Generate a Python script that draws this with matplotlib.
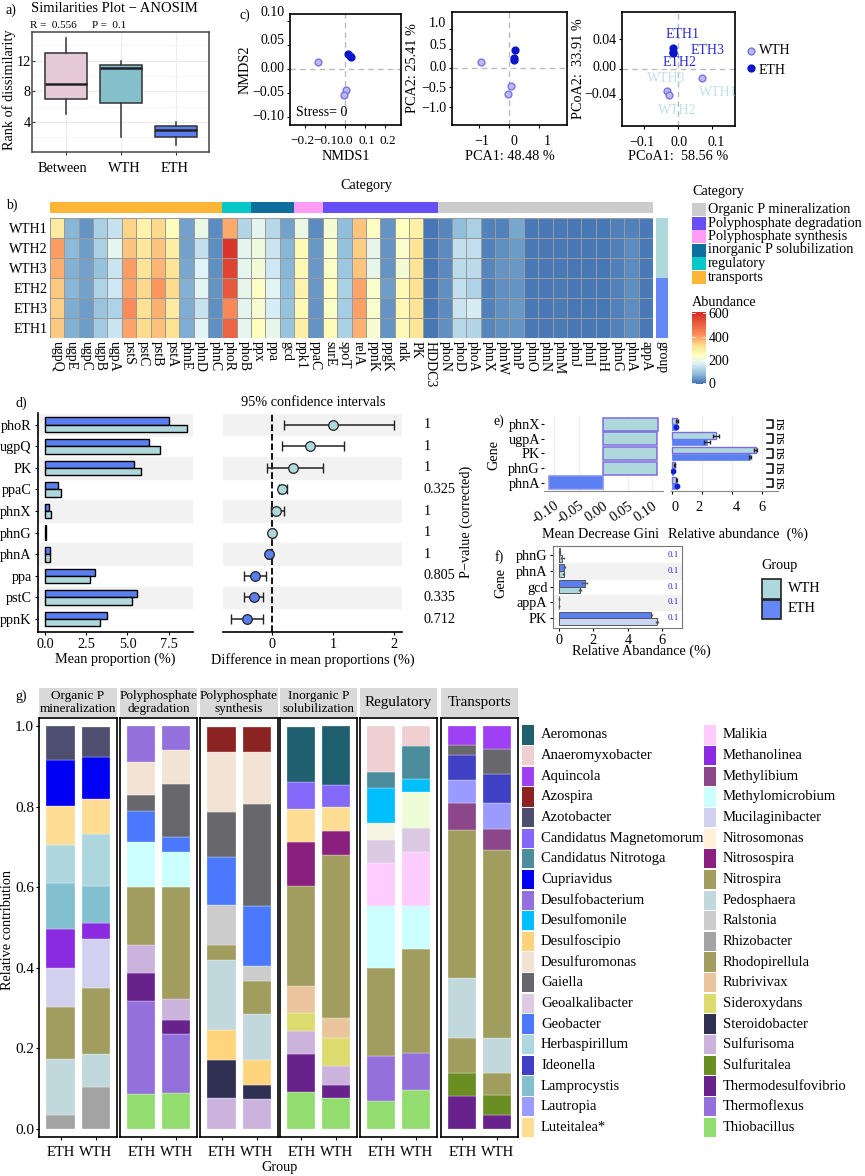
# -*- coding: utf-8 -*-
# multi panel phosphorus gene figure

import numpy as np
import matplotlib
matplotlib.use('Agg')
import matplotlib.pyplot as plt
from matplotlib.colors import LinearSegmentedColormap, Normalize
from matplotlib.patches import Rectangle
from matplotlib.transforms import Affine2D

W, H = 865, 1176
plt.rcParams['font.family'] = ['Liberation Serif', 'DejaVu Serif']
plt.rcParams['font.size'] = 10

TEAL = '#aed8db'
BLUE = '#5b7ff0'

# panel a
box_names = ['Between', 'WTH', 'ETH']
box_low = [5, 2, 1]
box_q1 = [7, 6.5, 2]
box_med = [9, 11, 3]
box_q3 = [13, 11.5, 3.5]
box_high = [15, 12, 4]
box_colors = ['#e5c9d7', '#85bfcc', '#5b7ff0']

# panel c
nmds_wth_x = [-0.135, 0.003, -0.003]
nmds_wth_y = [0.014, -0.044, -0.053]
nmds_eth_x = [0.015, 0.027, 0.032]
nmds_eth_y = [0.030, 0.027, 0.025]
pca_wth_x = [-0.955, 0.08, -0.045]
pca_wth_y = [0.164, -0.457, -0.66]
pca_eth_x = [0.19, 0.16, 0.16]
pca_eth_y = [0.457, 0.26, 0.22]
pcoa_wth_x = [0.07, -0.033, -0.027]
pcoa_wth_y = [-0.0124, -0.0293, -0.0347]
pcoa_eth_x = [-0.0146, -0.0150, -0.0146]
pcoa_eth_y = [0.0284, 0.023, 0.0218]
pcoa_names = ['ETH1', 'ETH3', 'ETH2', 'WTH3', 'WTH1', 'WTH2']
pcoa_name_x = [0.0126, 0.0845, 0.005, -0.034, 0.1165, -0.003]
pcoa_name_y = [0.0462, 0.0249, 0.008, -0.0129, -0.031, -0.0556]

# panel b
heat_genes = ['ugpQ', 'ugpE', 'ugpC', 'ugpB', 'ugpA', 'pstS', 'pstC', 'pstB', 'pstA', 'phnE',
              'phnD', 'phnC', 'phoR', 'phoB', 'ppx', 'ppa', 'gcd', 'ppk1', 'ppaC', 'surE',
              'spoT', 'relA', 'ppnK', 'ppgK', 'ndk', 'PK', 'HDDC3', 'phoN', 'phoD', 'phoA',
              'phnX', 'phnW', 'phnP', 'phnO', 'phnN', 'phnM', 'phnJ', 'phnI', 'phnH', 'phnG',
              'phnA', 'appA']
heat_samples = ['WTH1', 'WTH2', 'WTH3', 'ETH2', 'ETH3', 'ETH1']
heat_wth1 = [290, 70, 35, 110, 140, 335, 275, 330, 245, 50, 195, 25, 385, 120, 180, 125, 50, 195, 25, 215, 80,
             355, 235, 35, 240, 280, 2, 20, 80, 110, 15, 15, 55, 5, 5, 5, 4, 4, 4, 12, 15, 5]
heat_wth2 = [400, 75, 45, 110, 185, 355, 300, 355, 285, 50, 135, 28, 590, 180, 205, 145, 70, 255, 40, 225, 85,
             345, 190, 35, 225, 310, 2, 25, 135, 135, 15, 30, 42, 5, 5, 5, 4, 4, 4, 12, 25, 5]
heat_wth3 = [380, 65, 50, 85, 145, 400, 310, 370, 310, 55, 170, 30, 560, 185, 210, 150, 70, 260, 40, 230, 95,
             355, 190, 35, 215, 310, 2, 22, 130, 130, 20, 35, 40, 5, 5, 5, 4, 4, 4, 12, 25, 5]
heat_eth2 = [350, 70, 50, 115, 150, 390, 330, 410, 325, 65, 175, 35, 520, 190, 235, 175, 80, 275, 40, 245, 110,
             390, 225, 45, 255, 315, 3, 30, 135, 115, 15, 30, 35, 5, 5, 7, 4, 4, 4, 14, 28, 5]
heat_eth3 = [340, 60, 45, 90, 115, 425, 315, 375, 290, 60, 140, 30, 430, 180, 220, 160, 85, 255, 35, 230, 105,
             395, 225, 35, 260, 310, 2, 25, 145, 160, 15, 30, 40, 5, 5, 7, 4, 4, 4, 14, 28, 5]
heat_eth1 = [350, 65, 45, 100, 145, 390, 325, 360, 315, 60, 175, 30, 500, 185, 245, 190, 90, 280, 35, 250, 110,
             375, 220, 35, 255, 310, 3, 30, 125, 120, 20, 30, 35, 5, 5, 7, 4, 4, 4, 14, 28, 5]
heat_levels = [0, 80, 170, 240, 320, 420, 600]
heat_level_colors = ['#4575b4', '#91bfdb', '#e0f3f8', '#ffffbf', '#fee090', '#fc8d59', '#d73027']
cat_names = ['Organic P mineralization', 'Polyphosphate degradation', 'Polyphosphate synthesis',
             'inorganic P solubilization', 'regulatory', 'transports']
cat_colors = ['#cccccc', '#6650f5', '#ff9cf5', '#0e6f9e', '#06c8c8', '#fdb535']
cat_order = [5, 4, 3, 2, 1, 0]
cat_counts = [15, 8, 2, 3, 2, 12]

# panel d
d_genes = ['phoR', 'ugpQ', 'PK', 'ppaC', 'phnX', 'phnG', 'phnA', 'ppa', 'pstC', 'ppnK']
d_eth = [7.5, 6.3, 5.4, 0.8, 0.25, 0.05, 0.3, 3.05, 5.55, 3.75]
d_wth = [8.6, 7.0, 5.8, 1.0, 0.35, 0.05, 0.3, 2.75, 5.25, 3.35]
d_diff = [1.0, 0.63, 0.35, 0.17, 0.07, 0.0, -0.04, -0.27, -0.30, -0.41]
d_low = [0.2, 0.17, -0.08, 0.11, -0.02, -0.01, -0.08, -0.46, -0.46, -0.67]
d_high = [2.0, 1.18, 0.84, 0.24, 0.2, 0.03, 0.0, -0.09, -0.14, -0.14]
d_pvals = ['1', '1', '1', '0.325', '1', '1', '1', '0.805', '0.335', '0.712']

# panel e
e_genes = ['phnX', 'ugpA', 'PK', 'phnG', 'phnA']
e_gini = [0.113, 0.111, 0.111, 0.110, -0.110]
e_wth = [0.3, 2.9, 5.6, 0.15, 0.25]
e_eth = [0.25, 2.35, 5.2, 0.02, 0.28]
e_wth_err = [0.06, 0.2, 0.1, 0.05, 0.04]
e_eth_err = [0.05, 0.2, 0.06, 0.02, 0.05]

# panel f
f_genes = ['phnG', 'phnA', 'gcd', 'appA', 'PK']
f_eth = [0.05, 0.3, 1.5, 0.02, 5.35]
f_wth = [0.2, 0.28, 1.2, 0.02, 5.7]
f_eth_err = [0.03, 0.03, 0.15, 0.0, 0.03]
f_wth_err = [0.08, 0.03, 0.05, 0.0, 0.06]
f_pvals = ['0.1', '0.1', '0.1', '0.1', '0.1']

# panel g
taxa_colors = {
    'Aeromonas': '#1f5f70', 'Anaeromyxobacter': '#efcfd1', 'Aquincola': '#a040f5', 'Azospira': '#8b2323',
    'Azotobacter': '#4e4e70', 'Candidatus Magnetomorum': '#8468fa', 'Candidatus Nitrotoga': '#4d8c9c',
    'Cupriavidus': '#0000f5', 'Desulfobacterium': '#9370db', 'Desulfomonile': '#00bfff',
    'Desulfoscipio': '#ffd47d', 'Desulfuromonas': '#f2e3d5', 'Gaiella': '#68686c',
    'Geoalkalibacter': '#dccae3', 'Geobacter': '#4a78ff', 'Herbaspirillum': '#add6df',
    'Ideonella': '#4040c4', 'Lamprocystis': '#82bfcf', 'Lautropia': '#9a9aff', 'Luteitalea*': '#ffdd94',
    'Malikia': '#ffccff', 'Methanolinea': '#8a2be2', 'Methylibium': '#8b4789', 'Methylomicrobium': '#ccffff',
    'Mucilaginibacter': '#d2d0ef', 'Nitrosomonas': '#fff2d8', 'Nitrosospira': '#8b1f7f',
    'Nitrospira': '#a09d5e', 'Pedosphaera': '#c1d8dc', 'Ralstonia': '#cccccc', 'Rhizobacter': '#a3a3a3',
    'Rhodopirellula': '#a09d5e', 'Rubrivivax': '#eac49c', 'Sideroxydans': '#dcdc6e',
    'Steroidobacter': '#2f2f52', 'Sulfurisoma': '#cbb3de', 'Sulfuritalea': '#6b8e23',
    'Thermodesulfovibrio': '#68228b', 'Thermoflexus': '#9370db', 'Thiobacillus': '#93dc70',
}
taxa_names = list(taxa_colors.keys())
# these two pale segments are not in the legend
extra_colors = {'pale_cream': '#f7f5e4', 'pale_green': '#eefdd8'}

org_taxa = ['Rhizobacter', 'Pedosphaera', 'Nitrospira', 'Mucilaginibacter', 'Methanolinea', 'Lamprocystis',
            'Herbaspirillum', 'Luteitalea*', 'Cupriavidus', 'Azotobacter']
org_eth = [.034, .141, .129, .097, .095, .116, .094, .097, .113, .085]
org_wth = [.105, .080, .164, .122, .041, .092, .129, .086, .105, .075]

deg_taxa = ['Thiobacillus', 'Thermoflexus', 'Thermodesulfovibrio', 'Sulfurisoma', 'Nitrospira',
            'Methylomicrobium', 'Geobacter', 'Gaiella', 'Desulfuromonas', 'Desulfobacterium']
deg_eth = [.086, .231, .070, .071, .142, .112, .078, .040, .082, .089]
deg_wth = [.090, .145, .036, .052, .279, .087, .036, .132, .085, .059]

syn_taxa = ['Sulfurisoma', 'Steroidobacter', 'Desulfoscipio', 'Pedosphaera', 'Nitrospira', 'Ralstonia',
            'Geobacter', 'Gaiella', 'Desulfuromonas', 'Azospira']
syn_eth = [.076, .096, .075, .172, .037, .100, .120, .112, .149, .062]
syn_wth = [.075, .033, .064, .114, .081, .038, .148, .254, .130, .062]

sol_taxa = ['Thiobacillus', 'Thermodesulfovibrio', 'Sulfurisoma', 'Sideroxydans', 'Rubrivivax', 'Nitrospira',
            'Nitrosospira', 'Luteitalea*', 'Candidatus Magnetomorum', 'Aeromonas']
sol_eth = [.092, .095, .056, .046, .066, .248, .110, .083, .066, .137]
sol_wth = [.076, .034, .046, .070, .049, .405, .061, .059, .055, .146]

reg_taxa = ['Thiobacillus', 'Thermoflexus', 'Nitrospira', 'Methylomicrobium', 'Malikia', 'Geoalkalibacter',
            'pale_cream', 'Desulfomonile', 'Candidatus Nitrotoga', 'Anaeromyxobacter']
reg_wth_taxa = ['Thiobacillus', 'Thermoflexus', 'Nitrospira', 'Methylomicrobium', 'Malikia', 'Geoalkalibacter',
                'pale_green', 'Desulfomonile', 'Candidatus Nitrotoga', 'Anaeromyxobacter']
reg_eth = [.069, .112, .218, .155, .106, .057, .043, .088, .039, .113]
reg_wth = [.096, .092, .260, .105, .135, .059, .090, .032, .082, .049]

tra_taxa = ['Thermodesulfovibrio', 'Sulfuritalea', 'Rhodopirellula', 'Pedosphaera', 'Nitrospira', 'Methylibium',
            'Lautropia', 'Ideonella', 'Gaiella', 'Aquincola']
tra_eth = [.081, .057, .087, .151, .367, .068, .056, .061, .026, .047]
tra_wth = [.034, .050, .056, .086, .468, .050, .065, .073, .061, .058]

facet_titles = ['Organic P\nmineralization', 'Polyphosphate\ndegradation', 'Polyphosphate\nsynthesis',
                'Inorganic P\nsolubilization', 'Regulatory', 'Transports']
facet_sizes = [9.5, 9.5, 9.5, 9.5, 10.8, 10.8]

fig = plt.figure(figsize=(W / 100, H / 100), dpi=100)
fig.patch.set_facecolor('white')

overlay = fig.add_axes([0, 0, 1, 1], zorder=20)
overlay.set_xlim(0, W)
overlay.set_ylim(H, 0)
overlay.axis('off')
overlay.patch.set_alpha(0)


def put(x, y, s, size=10, ha='left', **kw):
    overlay.text(x, y, s, fontsize=size, ha=ha, va='center', **kw)


def swatch(x, y, w, h, color, **kw):
    overlay.add_patch(Rectangle((x, y), w, h, facecolor=color, edgecolor=kw.pop('edgecolor', 'none'), **kw))


def pixel_axes(x0, y0, x1, y1):
    return fig.add_axes([x0 / W, 1 - y1 / H, (x1 - x0) / W, (y1 - y0) / H])


def nudge(labels, dx=None, dy=None):
    # the original labels sit a few pixels off their ticks, dy counts downwards
    for i, lab in enumerate(labels):
        x = dx[i] if dx else 0
        y = dy[i] if dy else 0
        lab.set_transform(lab.get_transform() + Affine2D().translate(x, -y))


def draw_box_panel():
    ax = pixel_axes(32, 32, 209, 152)
    stats = []
    for i, name in enumerate(box_names):
        stats.append({'label': name, 'whislo': box_low[i], 'q1': box_q1[i], 'med': box_med[i],
                      'q3': box_q3[i], 'whishi': box_high[i]})
    parts = ax.bxp(stats, positions=[0, 1, 2], widths=0.76, patch_artist=True, showcaps=False,
                   showfliers=False, boxprops={'edgecolor': '#333333', 'linewidth': 1.1},
                   whiskerprops={'color': '#333333', 'linewidth': 1.1},
                   medianprops={'color': '#222222', 'linewidth': 1.8}, zorder=3)
    for patch, col in zip(parts['boxes'], box_colors):
        patch.set_facecolor(col)
    ax.set_xlim(-0.61, 2.6)
    ax.set_ylim(0.08, 15.76)
    ax.set_yticks([4, 8, 12])
    ax.set_yticks([2, 6, 10, 14], minor=True)
    ax.grid(True, color='#ececec', lw=0.8)
    ax.grid(True, which='minor', axis='y', color='#f4f4f4', lw=0.6)
    ax.tick_params(labelsize=10.3, length=2.5, color='#333333', pad=5)
    ax.tick_params(axis='y', direction='in', pad=1)
    ax.tick_params(which='minor', length=0)
    ax.set_xticks([0, 1, 2], box_names)
    nudge(ax.get_xticklabels(), dx=[-3, 4, -1])
    for s in ax.spines.values():
        s.set_color('#444444')
        s.set_linewidth(1.1)
    put(6, 10, 'a)', 10)
    put(31, 8, 'Similarities Plot \u2212 ANOSIM', 10.5)
    put(30, 25, 'R =  0.556', 8)
    put(92, 25, 'P =  0.1', 8)
    put(9, 90, 'Rank of dissimilarity', 10.3, ha='center', rotation=90)


def ordination(box, xl, yl, wx, wy, ex, ey, xticks, yticks, xlabels, ylabels, xlab, ylab, ylab_x):
    ax = pixel_axes(*box)
    ax.axhline(0, color='#bbbbbb', ls='--', lw=1, dashes=(4, 3), zorder=1)
    ax.axvline(0, color='#bbbbbb', ls='--', lw=1, dashes=(4, 3), zorder=1)
    ax.scatter(wx, wy, s=24, facecolor='#b4bdf2', edgecolor='#7d72e0', lw=1, zorder=3)
    ax.scatter(ex, ey, s=24, facecolor='#0a14c8', edgecolor='#0a14c8', lw=1, zorder=4)
    ax.set_xlim(*xl)
    ax.set_ylim(*yl)
    ax.set_xticks(xticks, xlabels)
    ax.set_yticks(yticks, ylabels)
    ax.tick_params(labelsize=10, length=2, pad=5)
    ax.tick_params(axis='y', pad=2)
    for s in ax.spines.values():
        s.set_linewidth(1.2)
    put((box[0] + box[2]) / 2, 157, xlab, 10.3, ha='center')
    put(ylab_x, (box[1] + box[3]) / 2, ylab, 10.3, ha='center', rotation=90)
    return ax


def draw_ordinations():
    a1 = ordination((290, 14, 401, 125), (-0.275, 0.28), (-0.1157, 0.1136), nmds_wth_x, nmds_wth_y,
                    nmds_eth_x, nmds_eth_y, [-0.2, -0.1, 0, 0.1, 0.2], [-0.10, -0.05, 0, 0.05, 0.10],
                    ['\u22120.2', '\u22120.1', '0.0', '0.1', '0.2'],
                    ['\u22120.10', '\u22120.05', '0.00', '0.05', '0.10'], 'NMDS1', 'NMDS2', 245)
    a1.tick_params(axis='x', labelsize=9.5)
    nudge(a1.get_xticklabels(), dx=[-3, 1, 0, 2, 3])
    nudge(a1.get_yticklabels(), dy=[-2, -2, -2, -6, -10])
    a1.text(0.05, 0.11, 'Stress= 0', transform=a1.transAxes, fontsize=10, va='center')
    a2 = ordination((452, 12, 567, 125), (-1.92, 1.95), (-1.47, 1.45), pca_wth_x, pca_wth_y, pca_eth_x, pca_eth_y,
                    [-1, 0, 1], [-1, -0.5, 0, 0.5, 1], ['\u22121', '0', '1'],
                    ['\u22121.0', '\u22120.5', '0.0', '0.5', '1.0'], 'PCA1: 48.48 %', 'PCA2: 25.41 %', 413)
    nudge(a2.get_xticklabels(), dx=[2, 5, 8])
    nudge(a2.get_yticklabels(), dy=[0, 0, -2, -5, -7])
    a3 = ordination((622, 12, 735, 126), (-0.163, 0.166), (-0.076, 0.076), pcoa_wth_x, pcoa_wth_y,
                    pcoa_eth_x, pcoa_eth_y, [-0.1, 0, 0.1], [-0.04, 0, 0.04],
                    ['\u22120.1', '0.0', '0.1'], ['\u22120.04', '0.00', '0.04'],
                    'PCoA1:  58.56 %', 'PCoA2:  33.91 %', 578)
    nudge(a3.get_xticklabels(), dx=[-2, 1, 4])
    nudge(a3.get_yticklabels(), dy=[-6, -3, 0])
    for i, name in enumerate(pcoa_names):
        col = '#2a2ad0' if name.startswith('ETH') else '#bfe3e0'
        a3.text(pcoa_name_x[i], pcoa_name_y[i], name, color=col, fontsize=10, ha='center', va='center',
                clip_on=True)
    put(240, 15, 'c)', 10)
    overlay.scatter([751], [51], s=24, facecolor='#b4bdf2', edgecolor='#7d72e0', lw=1)
    overlay.scatter([751], [68], s=24, facecolor='#0a14c8', edgecolor='#0a14c8', lw=1)
    put(759, 51, 'WTH', 10)
    put(759, 70, 'ETH', 10)


def draw_heatmap():
    values = np.array([heat_wth1, heat_wth2, heat_wth3, heat_eth2, heat_eth3, heat_eth1])
    vmin, vmax = -8, 612
    nodes = [(v - vmin) / (vmax - vmin) for v in heat_levels]
    nodes = [0.0] + nodes + [1.0]
    cols = [heat_level_colors[0]] + heat_level_colors + [heat_level_colors[-1]]
    cmap = LinearSegmentedColormap.from_list('abund', list(zip(nodes, cols)))
    norm = Normalize(vmin, vmax)

    ax = pixel_axes(50, 218, 653, 338)
    mesh = ax.pcolormesh(values, cmap=cmap, norm=norm, edgecolors='#9a9a9a', linewidth=0.7)
    ax.set_ylim(values.shape[0], 0)
    ax.set_xticks(np.arange(len(heat_genes)) + 0.5, heat_genes, rotation=270, fontsize=10)
    ax.set_yticks(np.arange(len(heat_samples)) + 0.5, heat_samples, fontsize=10)
    ax.tick_params(length=0, pad=2)
    for s in ax.spines.values():
        s.set_visible(False)

    top = pixel_axes(50, 202, 653, 213)
    left = 0
    for idx in cat_order:
        top.barh(0, cat_counts[idx], left=left, height=1, color=cat_colors[idx])
        left += cat_counts[idx]
    top.set_xlim(0, len(heat_genes))
    top.set_ylim(-0.5, 0.5)
    top.axis('off')

    group = pixel_axes(656, 218, 668, 338)
    group.bar([0], [3], bottom=[0], width=1, color=TEAL)
    group.bar([0], [3], bottom=[3], width=1, color='#6688f5')
    group.set_xlim(-0.5, 0.5)
    group.set_ylim(6, 0)
    group.set_xticks([0], ['group'], rotation=270, fontsize=10)
    group.set_yticks([])
    group.tick_params(length=0, pad=2)
    for s in group.spines.values():
        s.set_visible(False)

    put(340, 186, 'Category', 10.3)
    put(6, 205, 'b)', 10)
    put(692, 191, 'Category', 10.3)
    for i, name in enumerate(cat_names):
        swatch(692, 203 + i * 13.5, 14, 13, cat_colors[i])
        put(708, 209.5 + i * 13.5, name, 10.3)
    put(692, 302, 'Abundance', 10.3)
    cax = pixel_axes(692, 312, 706, 384)
    cb = fig.colorbar(mesh, cax=cax, ticks=[0, 200, 400, 600])
    cb.outline.set_visible(False)
    cb.ax.tick_params(labelsize=10, length=0, pad=2)
    for t in [0, 200, 400, 600]:
        cax.plot([0, 0.2], [t, t], color='white', lw=0.6, transform=cax.get_yaxis_transform())
        cax.plot([0.8, 1], [t, t], color='white', lw=0.6, transform=cax.get_yaxis_transform())


def draw_panel_d():
    ax = pixel_axes(38, 413, 193, 632)
    pos = np.arange(len(d_genes))
    for p in pos[::2]:
        ax.axhspan(p - 0.5, p + 0.5, color='#f2f2f2', zorder=0)
    ax.barh(pos - 0.17, d_eth, height=0.34, color=BLUE, edgecolor='black', lw=1, zorder=2)
    ax.barh(pos + 0.17, d_wth, height=0.34, color=TEAL, edgecolor='black', lw=1, zorder=2)
    ax.set_xlim(-0.42, 8.97)
    ax.set_ylim(9.6, -0.54)
    ax.set_yticks(pos, d_genes, fontsize=10.3)
    ax.set_xticks([0, 2.5, 5, 7.5], ['0.0', '2.5', '5.0', '7.5'])
    ax.tick_params(labelsize=10.3, length=2.5, pad=2)
    ax.set_xlabel('Mean proportion (%)', fontsize=10.3, labelpad=1)
    ax.spines[['top', 'right']].set_visible(False)
    ax.spines['left'].set_linewidth(1.2)
    ax.spines['bottom'].set_linewidth(1.2)

    ci = pixel_axes(223, 413, 402, 632)
    for p in pos[::2]:
        ci.axhspan(p - 0.5, p + 0.5, color='#f2f2f2', zorder=0)
    ci.axvline(0, color='black', ls='--', lw=1.3, zorder=1)
    for i in pos:
        col = TEAL if d_diff[i] >= 0 else BLUE
        ci.errorbar(d_diff[i], i, xerr=[[d_diff[i] - d_low[i]], [d_high[i] - d_diff[i]]], color='#222222',
                    lw=1.1, capsize=3.5, zorder=2)
        ci.scatter(d_diff[i], i, s=48, facecolor=col, edgecolor='#222222', lw=0.9, zorder=3)
        ci.text(1.12, i, d_pvals[i], transform=ci.get_yaxis_transform(), fontsize=10.3, va='center')
    ci.set_xlim(-0.80, 2.13)
    ci.set_ylim(9.6, -0.54)
    ci.set_yticks([])
    ci.set_xticks([0, 1, 2])
    ci.tick_params(labelsize=10.3, length=2.5, pad=2)
    ci.set_xlabel('Difference in mean proportions (%)', fontsize=10.3, labelpad=1)
    ci.spines[['top', 'right', 'left']].set_visible(False)
    ci.spines['bottom'].set_linewidth(1.2)
    put(15, 403, 'd)', 10)
    put(313, 403, '95% confidence intervals', 10.3, ha='center')
    put(466, 522, 'P\u2212value (corrected)', 10.3, ha='center', rotation=90)


def draw_panel_e():
    ax = pixel_axes(544, 416, 663, 491)
    pos = np.arange(len(e_genes))
    ax.grid(True, axis='x', color='#ececec', lw=0.8, zorder=0)
    for i in pos:
        col = TEAL if e_gini[i] > 0 else BLUE
        edge = '#7f6be0' if e_gini[i] > 0 else '#7f90ee'
        ax.barh(i, e_gini[i], height=0.88, color=col, edgecolor=edge, lw=1.1, zorder=2)
    ax.set_xlim(-0.121, 0.1225)
    ax.set_ylim(4.55, -0.55)
    ax.set_yticks(pos, e_genes, fontsize=10.3)
    ax.set_xticks([-0.1, -0.05, 0, 0.05, 0.1], ['-0.10', '-0.05', '0.00', '0.05', '0.10'],
                  rotation=35, ha='right', rotation_mode='anchor')
    ax.tick_params(axis='x', labelsize=10.3, length=0, pad=6)
    ax.tick_params(axis='y', length=2, pad=1)
    ax.spines[['top', 'right', 'left']].set_visible(False)
    ax.spines['bottom'].set_color('#888888')

    rel = pixel_axes(671, 416, 778, 491)
    rel.grid(True, axis='x', color='#ececec', lw=0.8, zorder=0)
    rel.barh(pos - 0.22, e_wth, height=0.42, color=TEAL, edgecolor='#7f6be0', lw=1, zorder=2)
    rel.barh(pos + 0.22, e_eth, height=0.42, color=BLUE, edgecolor=BLUE, lw=0.5, zorder=2)
    rel.errorbar(e_wth, pos - 0.22, xerr=e_wth_err, fmt='none', ecolor='#222222', lw=0.9, capsize=1.5, zorder=3)
    rel.errorbar(e_eth, pos + 0.22, xerr=e_eth_err, fmt='none', ecolor='#222222', lw=0.9, capsize=1.5, zorder=3)
    small = [i for i in pos if e_eth[i] < 0.5]
    rel.scatter([e_eth[i] for i in small], [i + 0.22 for i in small], s=10, color='#1020d0', zorder=4)
    rel.set_xlim(-0.1, 7.09)
    rel.set_ylim(4.55, -0.55)
    rel.set_yticks([])
    rel.set_xticks([0, 2, 4, 6])
    rel.tick_params(labelsize=10.3, length=2, pad=5)
    nudge(rel.get_xticklabels(), dx=[3, -3, 4, 0])
    rel.spines[['top', 'right', 'left']].set_visible(False)
    rel.spines['bottom'].set_color('#888888')
    for i in pos:
        rel.plot([6.37, 6.75, 6.75, 6.37], [i - 0.3, i - 0.3, i + 0.3, i + 0.3], color='black', lw=1.1,
                 clip_on=False)
        rel.text(7.2, i, 'ns', rotation=270, fontsize=10.3, ha='center', va='center', clip_on=False)
    put(493, 421, 'e)', 10)
    put(494, 455, 'Gene', 10.3, ha='center', rotation=90)
    put(601, 534, 'Mean Decrease Gini', 10.3, ha='center')
    put(738, 534, 'Relative abundance  (%)', 10.3, ha='center')


def draw_panel_f():
    ax = pixel_axes(553, 546, 682, 628)
    pos = np.arange(len(f_genes))
    for p in pos[1::2]:
        ax.axhspan(p - 0.5, p + 0.5, color='#f2f2f2', zorder=0)
    ax.barh(pos - 0.21, f_eth, height=0.42, color=BLUE, edgecolor='#555555', lw=0.7, zorder=2)
    wth_cols = [TEAL, TEAL, TEAL, TEAL, '#cbd6f5']
    ax.barh(pos + 0.21, f_wth, height=0.42, color=wth_cols, edgecolor='#555555', lw=0.7, zorder=2)
    ax.errorbar(f_eth, pos - 0.21, xerr=f_eth_err, fmt='none', ecolor='#555555', lw=0.7, capsize=1, zorder=3)
    ax.errorbar(f_wth, pos + 0.21, xerr=f_wth_err, fmt='none', ecolor='#555555', lw=0.7, capsize=1, zorder=3)
    for i in pos:
        ax.text(6.65, i, f_pvals[i], color='#2a2ad0', fontsize=6.5, ha='center', va='center')
    ax.set_xlim(-0.35, 7.15)
    ax.set_ylim(4.62, -0.57)
    ax.set_yticks(pos, f_genes, fontsize=10.3)
    ax.set_xticks([0, 2, 4, 6])
    ax.tick_params(labelsize=10.3, length=2, pad=2)
    for s in ax.spines.values():
        s.set_color('#777777')
    put(495, 557, 'f)', 10)
    put(501, 583, 'Gene', 10.3, ha='center', rotation=90)
    put(641, 651, 'Relative Abandance (%)', 10.3, ha='center')

    put(761, 566, 'Group', 10.3)
    swatch(762, 579, 19, 20, TEAL, edgecolor='#222222', lw=1.2)
    swatch(762, 600, 19, 19, '#6688f5', edgecolor='#222222', lw=1.2)
    put(788, 588, 'WTH', 10.3)
    put(788, 609, 'ETH', 10.3)


def stack_bar(ax, x, names, values):
    bottom = 0
    for name, val in zip(names, values):
        col = extra_colors.get(name, taxa_colors.get(name))
        ax.bar(x, val, bottom=bottom, width=0.8, color=col, edgecolor='white', lw=0.2)
        bottom += val


def draw_panel_g():
    facets = [(39, 117, org_taxa, org_taxa, org_eth, org_wth),
              (120, 197, deg_taxa, deg_taxa, deg_eth, deg_wth),
              (200, 278, syn_taxa, syn_taxa, syn_eth, syn_wth),
              (280, 357, sol_taxa, sol_taxa, sol_eth, sol_wth),
              (360, 437, reg_taxa, reg_wth_taxa, reg_eth, reg_wth),
              (441, 518, tra_taxa, tra_taxa, tra_eth, tra_wth)]
    for i, (x0, x1, names_e, names_w, eth, wth) in enumerate(facets):
        ax = pixel_axes(x0, 718, x1, 1137)
        stack_bar(ax, 0, names_e, eth)
        stack_bar(ax, 1, names_w, wth)
        ax.set_xlim(-0.61, 1.6)
        ax.set_ylim(-0.02, 1.021)
        ax.set_xticks([0, 1], ['ETH', 'WTH'], fontsize=10.5)
        nudge(ax.get_xticklabels(), dx=[-3, 2])
        ax.tick_params(axis='x', length=2.5, pad=4)
        if i == 0:
            ax.set_yticks([0, 0.2, 0.4, 0.6, 0.8, 1.0])
            ax.tick_params(axis='y', labelsize=11, length=2.5, pad=1)
        else:
            ax.set_yticks([])
        for s in ax.spines.values():
            s.set_linewidth(1.2)
        swatch(x0, 688, x1 - x0, 29, '#d9d9d9')
        put((x0 + x1) / 2, 702.5, facet_titles[i], facet_sizes[i], ha='center', linespacing=1.05)
    put(15, 696, 'g)', 10)
    put(280, 1167, 'Group', 10.3, ha='center')
    put(8, 930, 'Relative contribution', 10.3, ha='center', rotation=90)

    half = len(taxa_names) // 2
    for col, (x_sw, x_txt) in enumerate([(522, 541), (704, 723)]):
        for j, name in enumerate(taxa_names[half * col:half * (col + 1)]):
            swatch(x_sw, 725.3 + j * 20.65, 12, 19.3, taxa_colors[name])
            put(x_txt, 735 + j * 20.65, name, 10.5)


def main():
    draw_box_panel()
    draw_ordinations()
    draw_heatmap()
    draw_panel_d()
    draw_panel_e()
    draw_panel_f()
    draw_panel_g()
    fig.savefig('out.png', dpi=100)


if __name__ == "__main__":
    main()
